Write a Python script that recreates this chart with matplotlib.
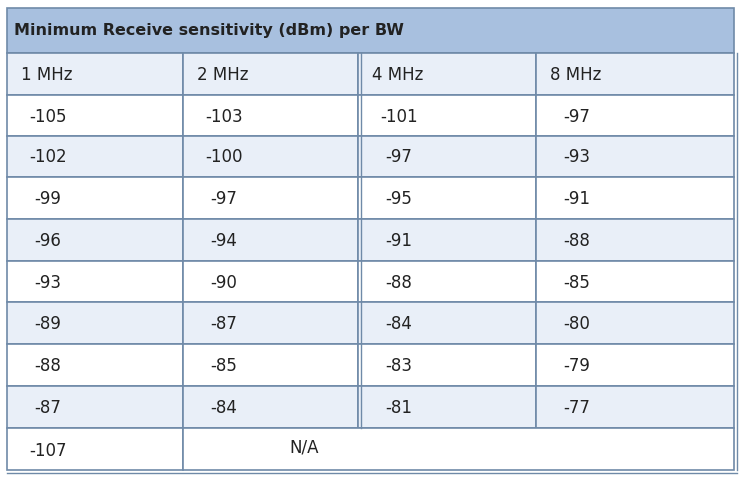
import matplotlib
matplotlib.use("Agg")
import matplotlib.pyplot as plt
from matplotlib.patches import Rectangle

title = "Minimum Receive sensitivity (dBm) per BW"
headers = ["1 MHz", "2 MHz", "4 MHz", "8 MHz"]
mhz1 = [-105, -102, -99, -96, -93, -89, -88, -87]
mhz2 = [-103, -100, -97, -94, -90, -87, -85, -84]
mhz4 = [-101, -97, -95, -91, -88, -84, -83, -81]
mhz8 = [-97, -93, -91, -88, -85, -80, -79, -77]
last_row = ["-107", "N/A"]

W, H = 743, 478
fig = plt.figure(figsize=(W/100, H/100), dpi=100)
ax = fig.add_axes([0, 0, 1, 1])
ax.set_xlim(0, W); ax.set_ylim(H, 0); ax.axis("off")

cols = [7, 183, 358, 536, 734]
rows = [8, 53, 95, 136, 177, 219, 261, 302, 344, 386, 428, 470]
edge = "#6f8aa8"
light = "#e9eff8"
font = dict(family="DejaVu Sans", color="#222222", va="center")

# title
ax.add_patch(Rectangle((cols[0], rows[0]), cols[-1]-cols[0], rows[1]-rows[0], fc="#a8c0df", ec=edge, lw=1.2))
ax.text(14, (rows[0]+rows[1])/2, title, fontsize=11.5, fontweight="bold", **font)

data = [mhz1, mhz2, mhz4, mhz8]
for r in range(10):
    y0, y1 = rows[r+1], rows[r+2]
    fc = light if r % 2 == 0 else "white"
    if r == 9:
        ax.add_patch(Rectangle((cols[0], y0), cols[1]-cols[0], y1-y0, fc=fc, ec=edge, lw=1.2))
        ax.add_patch(Rectangle((cols[1], y0), cols[4]-cols[1], y1-y0, fc=fc, ec=edge, lw=1.2))
        ax.text(cols[0]+22, (y0+y1)/2+2, last_row[0], fontsize=12, **font)
        ax.text(289, (y0+y1)/2-2, last_row[1], fontsize=12, **font)
        continue
    for c in range(4):
        ax.add_patch(Rectangle((cols[c], y0), cols[c+1]-cols[c], y1-y0, fc=fc, ec=edge, lw=1.2))
        if r == 0:
            txt = headers[c]; dx = 14
        else:
            v = data[c][r-1]; txt = str(v); dx = 22 if v <= -100 else 27
        ax.text(cols[c]+dx, (y0+y1)/2+1, txt, fontsize=12, **font)

# double line between 2 MHz and 4 MHz
ax.plot([cols[2]+3, cols[2]+3], [rows[1], rows[10]], color=edge, lw=1.0)
ax.plot([cols[-1]+3, cols[-1]+3], [rows[1], rows[-1]], color=edge, lw=1.0)
ax.plot([cols[0], cols[-1]+3], [rows[-1]+3, rows[-1]+3], color=edge, lw=1.0)

fig.savefig("out.png", dpi=100)
